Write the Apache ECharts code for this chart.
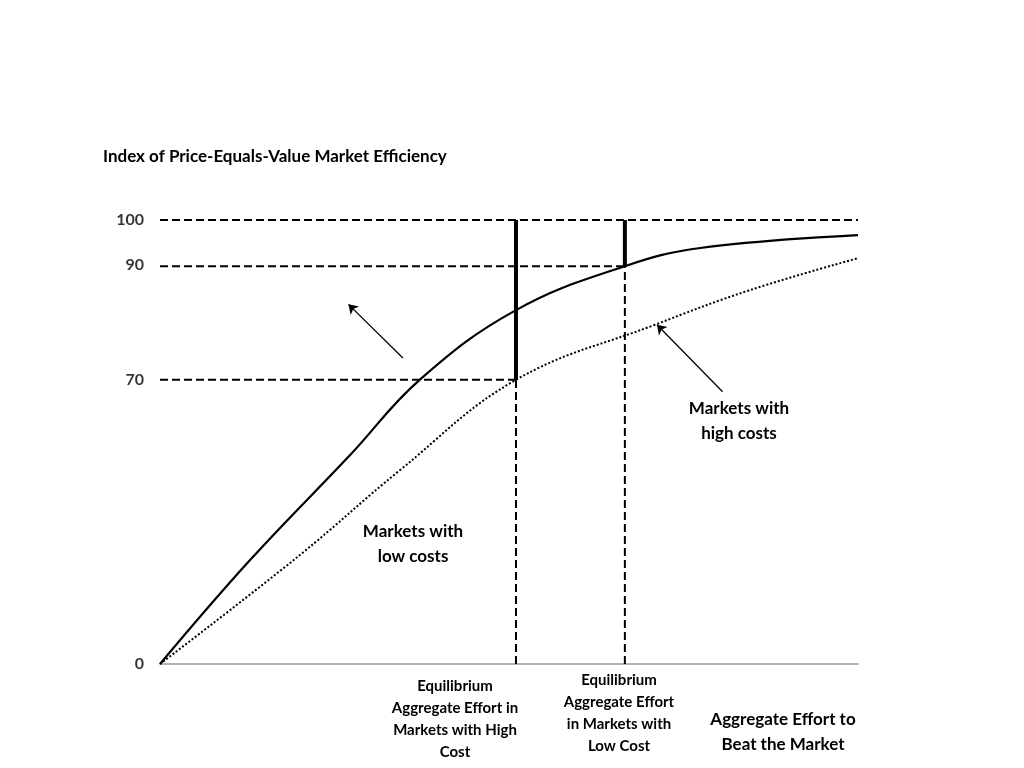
<!DOCTYPE html>
<html><head><meta charset="utf-8">
<script src="https://cdn.jsdelivr.net/npm/echarts@6/dist/echarts.min.js"></script>
<style>html,body{margin:0;background:#fff}#c{width:1024px;height:768px}</style>
</head><body><div id="c"></div>
<script>
const lowCostX = [0, 12.9, 27.2, 37.2, 51, 66.6, 77.4, 100];
const lowCostY = [0, 23.4, 47, 64, 79.7, 89.6, 93.7, 96.6];
const highCostX = [0, 20, 34.4, 51, 70.9, 84.5, 100];
const highCostY = [0, 24.5, 43.7, 64, 76.4, 84.2, 91.4];
const yTickPos = [0, 64, 90, 100];
const yTickLabels = ['0', '70', '90', '100'];
const eqHighX = 51, eqHighY = 64;
const eqLowX = 66.6, eqLowY = 89.6;

const F = 'Lato, "Noto Sans", sans-serif';
const dash = {type:'dashed', color:'#000', width:2};
function seg(a,b,style){return {type:'line',data:[a,b],showSymbol:false,symbol:'none',lineStyle:style,silent:true,z:1};}
function arrow(from,to){return {type:'line',data:[],markLine:{silent:true,symbol:['none','arrow'],symbolSize:9,lineStyle:{color:'#000',width:1.3,type:'solid'},label:{show:false},data:[[{coord:from},{coord:to}]]}};}

const chart = echarts.init(document.getElementById('c'));
chart.setOption({
  animation:false,
  grid:{left:160,right:166,top:220,bottom:104},
  xAxis:{type:'value',min:0,max:100,axisLine:{lineStyle:{color:'#999',width:1.5}},axisTick:{show:false},axisLabel:{show:false},splitLine:{show:false}},
  yAxis:{type:'value',min:0,max:100,axisLine:{show:false},axisTick:{show:false},axisLabel:{show:false},splitLine:{show:false}},
  series:[
    {type:'line',smooth:0.4,symbol:'none',data:lowCostX.map((x,i)=>[x,lowCostY[i]]),lineStyle:{color:'#000',width:2.2},z:3},
    {type:'line',smooth:0.4,symbol:'none',data:highCostX.map((x,i)=>[x,highCostY[i]]),lineStyle:{color:'#000',width:2,type:'dotted'},z:3},
    seg([0,100],[100,100],dash),
    seg([0,eqLowY],[eqLowX,eqLowY],dash),
    seg([0,eqHighY],[eqHighX,eqHighY],dash),
    seg([eqHighX,0],[eqHighX,eqHighY],dash),
    seg([eqLowX,0],[eqLowX,eqLowY],dash),
    seg([eqHighX,eqHighY],[eqHighX,100],{color:'#000',width:4}),
    seg([eqLowX,eqLowY],[eqLowX,100],{color:'#000',width:4}),
    arrow([34.8,68.9],[27,81]),
    arrow([80.6,61.3],[71.2,76.4]),
    {type:'scatter',symbolSize:0,data:yTickPos.map((y,i)=>[0,y,yTickLabels[i]]),
     label:{show:true,position:'left',distance:16,formatter:p=>p.value[2],fontFamily:F,fontWeight:'bold',fontSize:16,color:'#000'}}
  ],
  graphic:[
    {type:'text',left:103,top:148,style:{text:'Index of Price-Equals-Value Market Efficiency',font:'bold 17px '+F,fill:'#000'}},
    {type:'text',x:413,y:544,style:{text:'Markets with\nlow costs',font:'bold 17px '+F,fill:'#000',align:'center',verticalAlign:'middle',lineHeight:25}},
    {type:'text',x:739,y:421,style:{text:'Markets with\nhigh costs',font:'bold 17px '+F,fill:'#000',align:'center',verticalAlign:'middle',lineHeight:25}},
    {type:'text',x:455,y:719,style:{text:'Equilibrium\nAggregate Effort in\nMarkets with High\nCost',font:'bold 15px '+F,fill:'#000',align:'center',verticalAlign:'middle',lineHeight:22}},
    {type:'text',x:619,y:713,style:{text:'Equilibrium\nAggregate Effort\nin Markets with\nLow Cost',font:'bold 15px '+F,fill:'#000',align:'center',verticalAlign:'middle',lineHeight:22}},
    {type:'text',x:783,y:732,style:{text:'Aggregate Effort to\nBeat the Market',font:'bold 17px '+F,fill:'#000',align:'center',verticalAlign:'middle',lineHeight:25}}
  ]
});
</script></body></html>
